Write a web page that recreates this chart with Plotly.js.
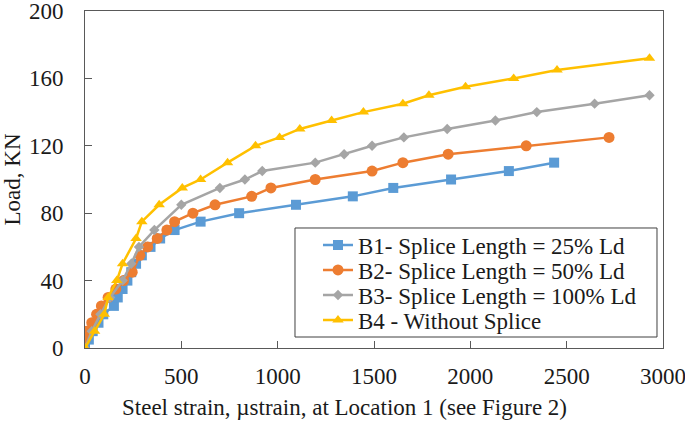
<!DOCTYPE html>
<html>
<head>
<meta charset="utf-8">
<script src="https://cdn.plot.ly/plotly-3.0.1.min.js"></script>
<style>html,body{margin:0;padding:0;background:#fff;}#chart{width:685px;height:433px;}</style>
</head>
<body>
<div id="chart"></div>
<script>
// Series names
const seriesNames = [
  "B1- Splice Length = 25% Ld",
  "B2- Splice Length = 50% Ld",
  "B3- Splice Length = 100% Ld",
  "B4 - Without Splice"
];
// B1 (strain, load)
const b1Strain = [0, 20, 40, 70, 95, 150, 170, 195, 220, 240, 265, 295, 340, 390, 465, 600, 800, 1095, 1390, 1600, 1900, 2200, 2435];
const b1Load   = [0, 5, 10, 15, 20, 25, 30, 35, 40, 45, 50, 55, 60, 65, 70, 75, 80, 85, 90, 95, 100, 105, 110];
// B2
const b2Strain = [0, 10, 35, 60, 85, 120, 160, 200, 245, 285, 325, 375, 425, 465, 560, 675, 865, 965, 1195, 1490, 1650, 1885, 2290, 2720];
const b2Load   = [5, 10, 15, 20, 25, 30, 35, 40, 45, 55, 60, 65, 70, 75, 80, 85, 90, 95, 100, 105, 110, 115, 120, 125];
// B3
const b3Strain = [0, 35, 80, 130, 195, 240, 280, 360, 500, 700, 830, 920, 1195, 1345, 1490, 1655, 1880, 2130, 2345, 2645, 2930];
const b3Load   = [0, 10, 20, 30, 40, 50, 60, 70, 85, 95, 100, 105, 110, 115, 120, 125, 130, 135, 140, 145, 150];
// B4
const b4Strain = [0, 50, 100, 120, 165, 195, 265, 295, 385, 505, 600, 740, 885, 1010, 1115, 1280, 1445, 1650, 1785, 1975, 2225, 2450, 2930];
const b4Load   = [0, 10, 20, 30, 40, 50, 65, 75, 85, 95, 100, 110, 120, 125, 130, 135, 140, 145, 150, 155, 160, 165, 172];

const xTickVals = [0, 500, 1000, 1500, 2000, 2500, 3000];
const yTickVals = [0, 40, 80, 120, 160, 200];
const xTitle = "Steel strain, µstrain, at Location 1 (see Figure 2)";
const yTitle = "Load, KN";

const colors = ["#5B9BD5", "#ED7D31", "#A5A5A5", "#FFC000"];
const symbols = ["square", "circle", "diamond", "triangle-up"];
const sizes = [10, 11, 8, 10];
const xs = [b1Strain, b2Strain, b3Strain, b4Strain];
const ys = [b1Load, b2Load, b3Load, b4Load];
const legendNames = ["legend", "legend2", "legend3", "legend4"];
const legendRowY = [0.3056, 0.2315, 0.1573, 0.0831];

const serif = "Liberation Serif";
const txt = "#1a1a1a";
const traces = xs.map((x, i) => ({
  type: "scatter", mode: "lines+markers",
  x: x, y: ys[i], name: seriesNames[i], legend: legendNames[i],
  line: {color: colors[i], width: 2.5},
  marker: {color: colors[i], symbol: symbols[i], size: sizes[i]}
}));

const layout = {
  width: 685, height: 433,
  margin: {l: 85, r: 22, t: 11, b: 85},
  paper_bgcolor: "#fff", plot_bgcolor: "#fff",
  font: {family: serif, size: 23, color: txt},
  showlegend: true,
  shapes: [{
    type: "rect", xref: "paper", yref: "paper", layer: "above",
    x0: 0.3633, x1: 0.9896, y0: 0.0326, y1: 0.3561,
    line: {color: "#404040", width: 1}, fillcolor: "#fff"
  }],
  annotations: [{
    text: xTitle, xref: "paper", yref: "paper", x: 0.4498, y: -0.176,
    xanchor: "center", yanchor: "middle", showarrow: false,
    font: {family: serif, size: 23, color: txt}
  }],
  xaxis: {
    range: [0, 3000], tickvals: xTickVals, ticktext: xTickVals.map(String),
    ticks: "inside", ticklen: 7, tickcolor: "#595959", showgrid: false, zeroline: false,
    showline: true, linecolor: "#595959", linewidth: 1, mirror: true,
    tickfont: {family: serif, size: 23, color: txt},
    ticklabelstandoff: 7, ticklabeloverflow: "allow"
  },
  yaxis: {
    range: [0, 200], tickvals: yTickVals, ticktext: yTickVals.map(String),
    ticks: "inside", ticklen: 7, tickcolor: "#595959", showgrid: false, zeroline: false,
    showline: true, linecolor: "#595959", linewidth: 1, mirror: true,
    tickfont: {family: serif, size: 23, color: txt},
    ticklabelstandoff: 16, ticklabeloverflow: "allow",
    title: {text: yTitle, font: {family: serif, size: 23, color: txt}, standoff: 3}
  }
};
legendNames.forEach((ln, i) => {
  layout[ln] = {
    x: 0.4031, y: legendRowY[i], xanchor: "left", yanchor: "middle",
    bgcolor: "rgba(0,0,0,0)", borderwidth: 0,
    font: {family: serif, size: 23, color: txt}
  };
});

Plotly.newPlot("chart", traces, layout, {displayModeBar: false, staticPlot: true});
</script>
</body>
</html>
